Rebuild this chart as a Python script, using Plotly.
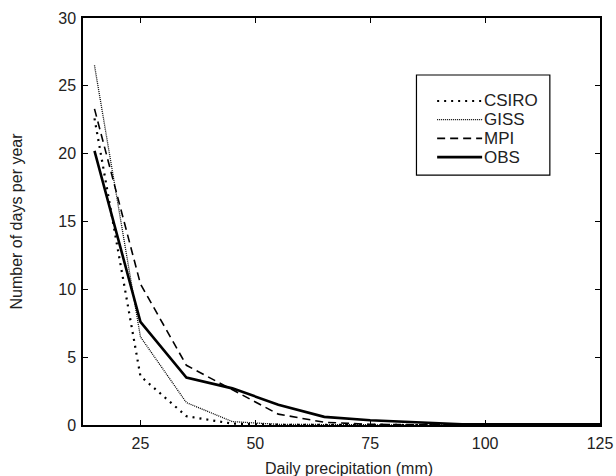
import plotly.graph_objects as go

precip = [15, 25, 35, 45, 55, 65, 75, 85, 95, 105, 115, 125]
csiro = [22.6, 3.6, 0.65, 0.1, 0.02, 0, 0, 0, 0, 0, 0, 0]
giss = [26.5, 6.5, 1.65, 0.25, 0.05, 0.02, 0, 0, 0, 0, 0, 0]
mpi = [23.3, 10.4, 4.4, 2.6, 0.8, 0.2, 0.05, 0.02, 0, 0, 0, 0]
obs = [20.2, 7.6, 3.5, 2.7, 1.5, 0.6, 0.35, 0.2, 0.05, 0.05, 0.05, 0.05]

series = [
    ("CSIRO", csiro, {"dash": "2px,5px", "width": 2.2}),
    ("GISS", giss, {"dash": "1px,1px", "width": 1.3}),
    ("MPI", mpi, {"dash": "8px,5px", "width": 1.6}),
    ("OBS", obs, {"dash": "solid", "width": 2.6}),
]

W, H = 616, 476
ML, MR, MT, MB = 83, 16, 18, 51
plot_w = W - ML - MR
plot_h = H - MT - MB

fig = go.Figure()
for name, vals, style in series:
    fig.add_trace(go.Scatter(
        x=precip, y=vals, name=name, mode="lines", showlegend=False,
        line={"color": "black", **style},
    ))

# hand-drawn legend box (matches the reference's tight row spacing)
shapes = [dict(type="rect", xref="paper", yref="paper",
               x0=0.645, x1=0.903, y0=0.614, y1=0.860,
               line={"color": "black", "width": 1.2})]
annotations = []
row0, row_gap = 83, 18.7  # px from top of plot area
for i, (name, vals, style) in enumerate(series):
    yp = 1 - (row0 + i * row_gap) / plot_h
    shapes.append(dict(type="line", xref="paper", yref="paper",
                       x0=0.685, x1=0.772, y0=yp, y1=yp,
                       line={"color": "black", **style}))
    annotations.append(dict(text=name, xref="paper", yref="paper",
                            x=0.772, y=yp, xanchor="left", yanchor="middle",
                            showarrow=False, font={"size": 17, "color": "#222"}))

# x title sits a little right of the axis centre in the reference
annotations.append(dict(text="Daily precipitation (mm)", xref="paper", yref="paper",
                        x=(349 - ML) / plot_w, y=-(468 - MT - plot_h) / plot_h,
                        xanchor="center", yanchor="middle", showarrow=False,
                        font={"size": 16, "color": "#222"}))

axis_common = dict(
    showline=True, linecolor="black", linewidth=1.5, mirror="ticks",
    ticks="inside", ticklen=5, tickcolor="black", tickwidth=1.2,
    showgrid=False, zeroline=False, automargin=False,
    tickfont={"size": 16, "color": "#222"},
)

fig.update_layout(
    width=W, height=H,
    plot_bgcolor="white", paper_bgcolor="white",
    margin={"l": ML, "r": MR, "t": MT, "b": MB},
    font={"family": "Liberation Sans, Arial, sans-serif", "size": 16, "color": "#222"},
    xaxis=dict(axis_common, range=[12.5, 125], tickvals=[25, 50, 75, 100, 125],
               ticklabelstandoff=3),
    yaxis=dict(axis_common, range=[0, 30], tickvals=[0, 5, 10, 15, 20, 25, 30],
               ticklabelstandoff=2,
               title={"text": "Number of days per year", "standoff": 32,
                      "font": {"size": 16}}),
    shapes=shapes,
    annotations=annotations,
)

# drop the default body margin so the figure fills the window exactly
fig.write_html("out.html", config={"displayModeBar": False},
               post_script="document.body.style.margin='0';")
